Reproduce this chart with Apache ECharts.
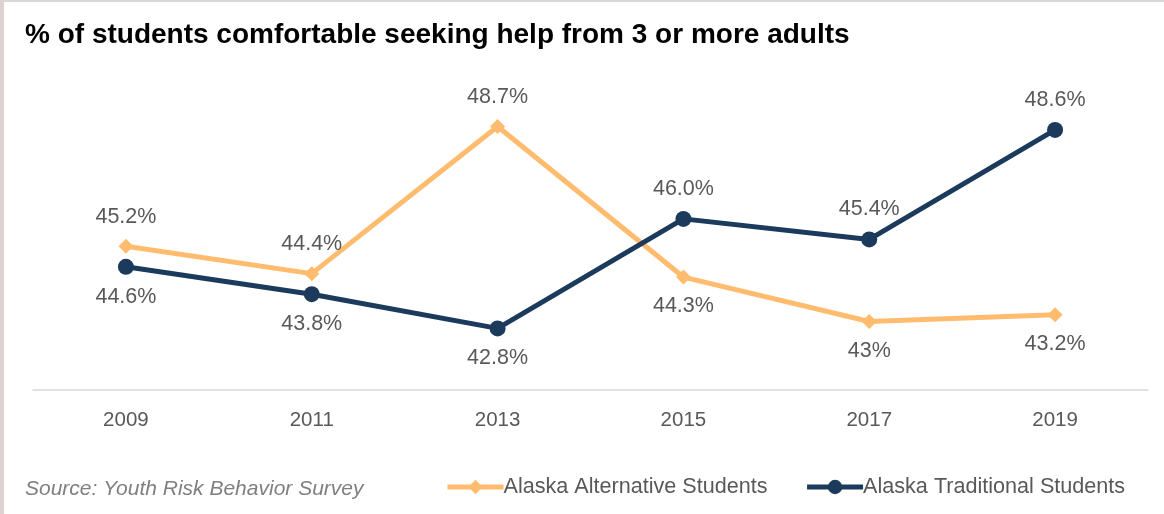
<!DOCTYPE html>
<html><head><meta charset="utf-8">
<script src="https://cdn.jsdelivr.net/npm/echarts@6/dist/echarts.min.js"></script>
<style>html,body{margin:0;padding:0;background:#fff}#c{width:1164px;height:514px}</style>
</head><body><div id="c"></div>
<script>
const categories = ['2009','2011','2013','2015','2017','2019'];
const alternative = [45.2, 44.4, 48.7, 44.3, 43, 43.2];
const traditional = [44.6, 43.8, 42.8, 46.0, 45.4, 48.6];
const altLabels = ['45.2%','44.4%','48.7%','44.3%','43%','43.2%'];
const tradLabels = ['44.6%','43.8%','42.8%','46.0%','45.4%','48.6%'];
const altPos = ['top','top','top','bottom','bottom','bottom'];
const tradPos = ['bottom','bottom','bottom','top','top','top'];

const font = 'Liberation Sans, Arial, sans-serif';
const chart = echarts.init(document.getElementById('c'));
function mk(vals, labels, pos){
  return vals.map((v,i)=>({value:v, label:{position:pos[i], formatter:labels[i]}}));
}
chart.setOption({
  animation:false,
  title:{text:'% of students comfortable seeking help from 3 or more adults', left:20, top:16,
    textStyle:{fontFamily:font, fontWeight:'bold', fontSize:28, color:'#000'}},
  graphic:[
    {type:'rect', shape:{x:0,y:0,width:1164,height:2}, style:{fill:'#d8d8d8'}},
    {type:'rect', shape:{x:0,y:0,width:4,height:514}, style:{fill:'#dcd2d2'}},
    {type:'text', left:25, top:479, style:{text:'Source: Youth Risk Behavior Survey', fontFamily:font, fontStyle:'italic', fontSize:21, fill:'#7f7f7f'}}
  ],
  legend:{left:440, top:471, itemWidth:56, itemHeight:18, itemGap:37,
    lineStyle:{width:5},
    textStyle:{fontFamily:font, fontSize:21.6, color:'#595959', padding:[0,0,0,-5]},
    data:['Alaska Alternative Students','Alaska Traditional Students']},
  grid:{left:33, right:16, top:82, bottom:124},
  xAxis:{type:'category', data:categories, boundaryGap:true,
    axisLine:{lineStyle:{color:'#d9d9d9', width:1.5}}, axisTick:{show:false},
    axisLabel:{fontFamily:font, fontSize:20.5, color:'#595959', margin:20}},
  yAxis:{type:'value', min:41, max:50, show:false, splitLine:{show:false}},
  series:[
    {name:'Alaska Alternative Students', type:'line', data:mk(alternative, altLabels, altPos),
      symbol:'diamond', symbolSize:15, lineStyle:{width:5, color:'#FFBC6E'}, itemStyle:{color:'#FFBC6E'},
      label:{show:true, distance:11, fontFamily:font, fontSize:21.5, color:'#595959'}},
    {name:'Alaska Traditional Students', type:'line', data:mk(traditional, tradLabels, tradPos),
      symbol:'circle', symbolSize:16, lineStyle:{width:5, color:'#1B3A5C'}, itemStyle:{color:'#1B3A5C'},
      label:{show:true, distance:11, fontFamily:font, fontSize:21.5, color:'#595959'}}
  ]
});
</script></body></html>
